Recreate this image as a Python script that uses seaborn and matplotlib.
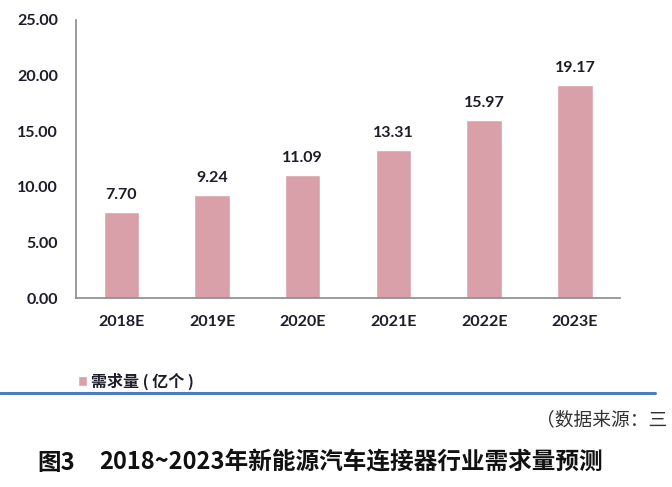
import numpy as np
import pandas as pd
import matplotlib
matplotlib.use("Agg")
import matplotlib.pyplot as plt
import seaborn as sns
from matplotlib.lines import Line2D

years = ['2018E', '2019E', '2020E', '2021E', '2022E', '2023E']
demand = [7.70, 9.24, 11.09, 13.31, 15.97, 19.17]
y_ticks = [0, 5, 10, 15, 20, 25]

df = pd.DataFrame({'year': years, 'demand': demand})

sns.set_theme(style='white')
plt.rcParams['font.family'] = ['Lato', 'Noto Sans CJK SC', 'DejaVu Sans']

bar_color = '#D9A0AA'
text_color = '#1c1c2a'

fig = plt.figure(figsize=(6.72, 4.87), dpi=100)
ax = fig.add_axes([0.113, 0.388, 0.81, 0.571])

sns.barplot(data=df, x='year', y='demand', color=bar_color, width=0.39,
            saturation=1, ax=ax, label='需求量 ( 亿个 )')

for i, v in enumerate(demand):
    ax.text(i, v + 0.9, f'{v:.2f}', ha='center', va='bottom',
            fontsize=11.5, fontweight='bold', color=text_color)

ax.set_xlim(-0.5, len(years) - 0.5)
ax.set_ylim(0, 25)
ax.set_yticks(y_ticks)
ax.set_yticklabels([f'{t:.2f}' for t in y_ticks])
ax.set_xlabel('')
ax.set_ylabel('')

# category separators as tick marks
ax.set_xticks(np.arange(len(years) + 1) - 0.5, minor=True)
ax.tick_params(axis='x', which='major', length=0, pad=12)
ax.tick_params(axis='x', which='minor', length=6, width=1, color='#8a8a8a', direction='out')
ax.tick_params(axis='y', length=5, width=1, color='#8a8a8a', direction='out', pad=8)
for lab in ax.get_xticklabels() + ax.get_yticklabels():
    lab.set_fontsize(11.5)
    lab.set_fontweight('bold')
    lab.set_color(text_color)

for s in ['top', 'right']:
    ax.spines[s].set_visible(False)
for s in ['left', 'bottom']:
    ax.spines[s].set_color('#8a8a8a')
    ax.spines[s].set_linewidth(1.2)

leg = ax.legend(loc='upper left', bbox_to_anchor=(0.095, 0.265),
                bbox_transform=fig.transFigure, frameon=False,
                handlelength=0.55, handleheight=0.55, handletextpad=0.25,
                prop={'family': ['Noto Sans CJK SC'], 'weight': 'bold', 'size': 11.5})
for t in leg.get_texts():
    t.set_color(text_color)

fig.add_artist(Line2D([0, 0.975], [0.193, 0.193], transform=fig.transFigure,
                      color='#4A7DBE', lw=2.2))

fig.text(0.798, 0.137, '（数据来源：三', fontsize=13.5, color='#333333',
         family=['Noto Sans CJK SC'], va='center', ha='left')

fig.text(0.055, 0.05, '图3', fontsize=17, fontweight='bold', color='#111111',
         family=['Noto Sans CJK SC'], va='center', ha='left')
fig.text(0.147, 0.05, '2018~2023年新能源汽车连接器行业需求量预测', fontsize=17,
         fontweight='bold', color='#111111', family=['Noto Sans CJK SC'],
         va='center', ha='left')

fig.savefig('out.png', dpi=100)
